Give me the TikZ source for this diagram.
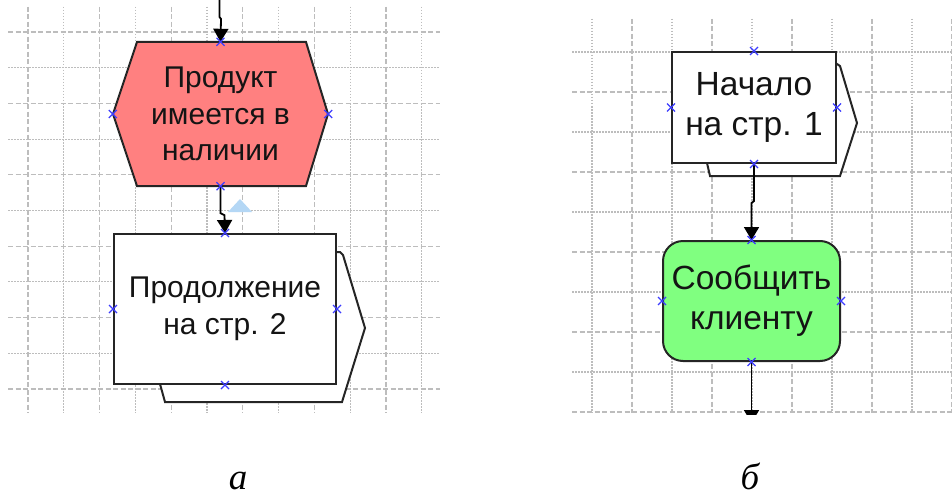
\documentclass[tikz,border=0pt]{standalone}
\usepackage{fontspec}
\setmainfont{Liberation Serif}
\newfontfamily\arialf{Liberation Sans}
\usetikzlibrary{arrows.meta}
\definecolor{gridc}{HTML}{BDBDBD}
\definecolor{hexred}{HTML}{FF8080}
\definecolor{okgreen}{HTML}{80FF80}
\definecolor{mk}{HTML}{3C3CFF}
\definecolor{edgec}{HTML}{252525}
\definecolor{hint}{HTML}{B4D7F5}
\tikzset{
  gdash/.style={gridc, line width=1.1pt, dash pattern=on 5pt off 2.5pt},
  gdot/.style={gridc, line width=1.1pt, dash pattern=on 1.5pt off 1.5pt},
  shapeline/.style={draw=edgec, line width=2pt, line join=miter},
  txtL/.style={font=\arialf\fontsize{30}{36.5}\selectfont, align=center, inner sep=0pt, text=black!92},
  txtR/.style={font=\arialf\fontsize{33.5}{40}\selectfont, align=center, inner sep=0pt, text=black!92},
  conn/.style={draw=black, line width=1.8pt, -{Triangle[width=15pt,length=13pt]}},
  xmark/.pic={\draw[mk, line width=1.3pt] (-4,-4)--(4,4) (-4,4)--(4,-4);},
  caption/.style={font=\fontsize{37}{40}\selectfont\itshape, inner sep=0pt, anchor=base},
}
\begin{document}
\begin{tikzpicture}[x=1pt,y=-1pt]
\useasboundingbox[fill=white] (0,0) rectangle (952,500);

% ---------- grid, panel a ----------
\foreach \i in {0,...,11}{
  \pgfmathsetmacro{\xx}{28+35.8*\i}
  \pgfmathparse{mod(\i,2)==0 ? "gdash" : "gdot"}
  \edef\gs{\pgfmathresult}
  \draw[style=\gs] (\xx,7) -- (\xx,413);
}
\foreach \i in {0,...,10}{
  \pgfmathsetmacro{\yy}{32+35.7*\i}
  \pgfmathparse{mod(\i,2)==0 ? "gdash" : "gdot"}
  \edef\gs{\pgfmathresult}
  \draw[style=\gs] (8,\yy) -- (440,\yy);
}
% ---------- grid, panel b ----------
\foreach \i in {0,...,9}{
  \pgfmathsetmacro{\xx}{592+40*\i}
  \pgfmathparse{mod(\i,2)==0 ? "gdot" : "gdash"}
  \edef\gs{\pgfmathresult}
  \draw[style=\gs] (\xx,19) -- (\xx,413);
}
\foreach \i in {0,...,9}{
  \pgfmathsetmacro{\yy}{52+40*\i}
  \pgfmathparse{mod(\i,2)==0 ? "gdot" : "gdash"}
  \edef\gs{\pgfmathresult}
  \draw[style=\gs] (572,\yy) -- (952,\yy);
}

% ---------- panel a ----------
\coordinate (in0) at (219.5,0);
\fill[hexred] (137,42) -- (306,42) -- (328,114) -- (306,186) -- (137,186) -- (113,114) -- cycle;
\draw[shapeline] (137,42) -- (306,42) -- (328,114) -- (306,186) -- (137,186) -- (113,114) -- cycle;
\node[txtL, minimum width=215pt, minimum height=144pt] (hex) at (220.5,114)
  {Продукт\\имеется в\\наличии};

\draw[shapeline, fill=white] (160,252) -- (340,252) -- (343,255) -- (365,328) -- (342,402)
  -- (165,402) -- (160,384) -- cycle;
\node[txtL, shapeline, fill=white, minimum width=222pt, minimum height=150pt] (cont) at (225,309)
  {Продолжение\\на стр. 2};

\draw[conn] (in0) -- ++(0,17) -- ++(1.5,2) -- (hex.north);
\draw[conn] (hex.south) -- ++(0,27) -- ++(4,2) -- (cont.north);
\fill[hint] (228,212) -- (240,199) -- (252,212) -- cycle;

\foreach \a in {north,south,east,west}{
  \pic at (hex.\a) {xmark};
  \pic at (cont.\a) {xmark};
}

% ---------- panel b ----------
\draw[shapeline, fill=white] (707,64) -- (837,64) -- (840,66) -- (857,123) -- (840,176)
  -- (710,176) -- (707,163) -- cycle;
\node[txtR, shapeline, fill=white, minimum width=164pt, minimum height=111pt] (start) at (754,107.5)
  {Начало\\на стр. 1};
\node[txtR, shapeline, fill=okgreen, rounded corners=20pt, minimum width=177pt, minimum height=120pt]
  (msg) at (751.5,301) {Сообщить\\клиенту};
\coordinate (out1) at (751.5,423);

\draw[conn] (start.south) -- ++(0,37) -- ++(-2.5,2) -- (msg.north);
\begin{scope}
  \clip (560,0) rectangle (952,414);
  \draw[conn] (msg.south) -- (out1);
\end{scope}

\foreach \a in {north,south,east,west}{
  \pic at (start.\a) {xmark};
  \pic at (msg.\a) {xmark};
}

% ---------- captions ----------
\node[caption] (capa) at (238,489) {а};
\node[caption] (capb) at (750,489) {б};
\end{tikzpicture}
\end{document}
